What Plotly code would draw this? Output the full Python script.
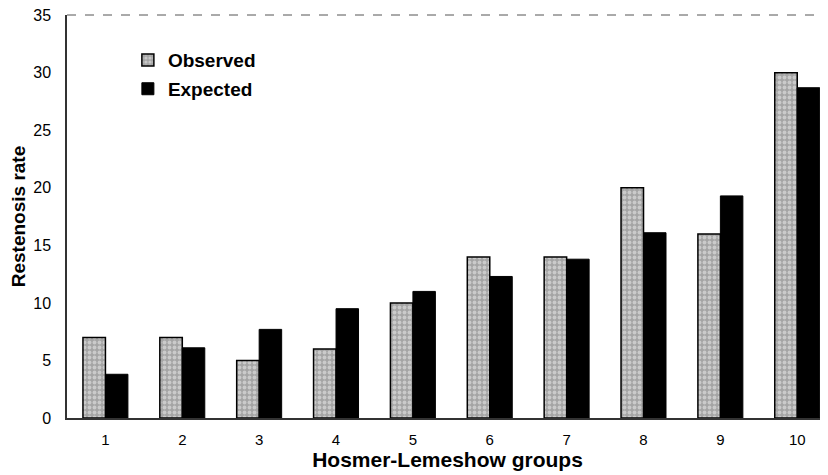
import plotly.graph_objects as go

groups = ["1", "2", "3", "4", "5", "6", "7", "8", "9", "10"]
observed = [7, 7, 5, 6, 10, 14, 14, 20, 16, 30]
expected = [3.8, 6.1, 7.7, 9.5, 11.0, 12.3, 13.8, 16.1, 19.3, 28.7]
y_ticks = [0, 5, 10, 15, 20, 25, 30, 35]

x_pos = list(range(1, len(groups) + 1))

fig = go.Figure()
fig.add_trace(go.Bar(
    x=x_pos, y=observed, name="Observed", legendgroup="obs",
    marker=dict(
        color="#a4a4a4",
        line=dict(color="black", width=1.5),
        pattern=dict(shape=".", fgcolor="#f0f0f0", bgcolor="#a4a4a4", size=5, solidity=0.45),
    ),
))
fig.add_trace(go.Bar(
    x=x_pos, y=expected, name="Expected", legendgroup="exp",
    marker=dict(color="black", line=dict(color="black", width=1)),
))

font_family = "Liberation Sans, Arial, sans-serif"

fig.update_layout(
    width=820, height=467,
    margin=dict(l=59, r=0, t=7, b=57),
    paper_bgcolor="white", plot_bgcolor="white",
    barmode="group", bargap=0.415, bargroupgap=0,
    font=dict(family=font_family, color="black", size=14),
    showlegend=True,
    legend=dict(
        x=0.08, y=0.935, xanchor="left", yanchor="top",
        font=dict(size=19, family=font_family, weight="bold"),
        bgcolor="rgba(0,0,0,0)",
        traceorder="grouped", tracegroupgap=1,
        itemwidth=30,
    ),
    xaxis=dict(
        range=[0.5, 10.4],
        tickmode="array", tickvals=x_pos, ticktext=groups,
        showline=True, linecolor="#333", linewidth=1.5,
        showgrid=False, zeroline=False, ticks="",
        ticklabelstandoff=7,
        tickfont=dict(size=15),
        automargin=False,
        title=dict(text="Hosmer-Lemeshow groups", font=dict(size=21, weight="bold"), standoff=6),
    ),
    yaxis=dict(
        range=[0, 35.02],
        tickmode="array", tickvals=y_ticks,
        showline=True, linecolor="#333", linewidth=1.5,
        showgrid=False, zeroline=False, ticks="",
        ticklabelstandoff=11,
        ticklabeloverflow="allow",
        tickfont=dict(size=16),
        automargin=False,
        title=dict(text="Restenosis rate", font=dict(size=19, weight="bold"), standoff=7),
    ),
)

# thin top border of the plot frame
fig.add_shape(type="line", xref="paper", yref="paper", x0=0, x1=1, y0=1, y1=1,
              line=dict(color="#555", width=1, dash="dash"))

fig.write_html("out.html")
